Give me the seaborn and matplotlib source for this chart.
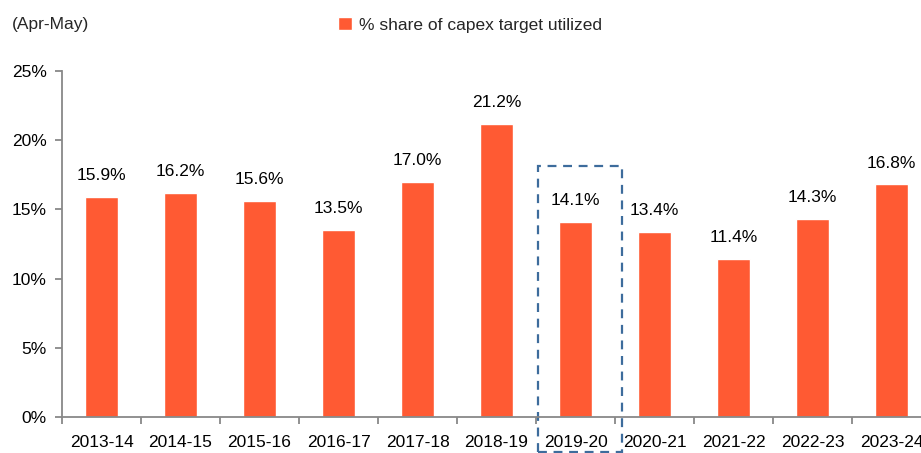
import matplotlib
matplotlib.use("Agg")
import matplotlib.pyplot as plt
import seaborn as sns
import pandas as pd
from matplotlib.patches import Rectangle
from matplotlib.ticker import MultipleLocator, FuncFormatter

years = ["2013-14", "2014-15", "2015-16", "2016-17", "2017-18", "2018-19",
         "2019-20", "2020-21", "2021-22", "2022-23", "2023-24"]
share = [15.9, 16.2, 15.6, 13.5, 17.0, 21.2, 14.1, 13.4, 11.4, 14.3, 16.8]
series_name = "% share of capex target utilized"
highlight = "2019-20"

sns.set_theme(style="white")
plt.rcParams['font.family'] = ['Liberation Sans', 'DejaVu Sans']

df = pd.DataFrame({"year": years, "share": share})

FS = 12.5
W, H = 921, 453
fig = plt.figure(figsize=(W / 100, H / 100), dpi=100)
left, right, bottom, top = 62, 931, 417, 71
ax = fig.add_axes([left / W, (H - bottom) / H, (right - left) / W, (bottom - top) / H])

color = "#FF5A33"
sns.barplot(data=df, x="year", y="share", color=color, width=0.41, ax=ax,
            saturation=1, label=series_name)

ax.set_xlim(-0.5, len(years) - 0.5)
ax.set_ylim(0, 25)
ax.yaxis.set_major_locator(MultipleLocator(5))
ax.yaxis.set_major_formatter(FuncFormatter(lambda v, p: f"{v:.0f}%"))
ax.set_xlabel("")
ax.set_ylabel("")

for s in ["top", "right"]:
    ax.spines[s].set_visible(False)
for s in ["left", "bottom"]:
    ax.spines[s].set_color("#888888")
    ax.spines[s].set_linewidth(1.3)

ax.tick_params(axis="y", which="major", left=True, length=5, width=1.3, color="#888888",
               labelsize=FS, labelcolor="black", pad=6)
ax.tick_params(axis="x", which="major", bottom=False, length=0, labelsize=FS,
               labelcolor="black", pad=13)
ax.set_xticks([i - 0.5 for i in range(len(years) + 1)], minor=True)
ax.tick_params(axis="x", which="minor", bottom=True, length=5, width=1.3, color="#888888")

for i, v in enumerate(share):
    ax.text(i, v + 1.0, f"{v:.1f}%", ha="center", va="bottom", fontsize=FS, color="black")

hi = years.index(highlight)
rect = Rectangle((hi - 0.47, -2.55), 1.06, 20.7, fill=False, linestyle=(0, (4, 3)),
                 edgecolor="#3D6C9C", linewidth=1.6, clip_on=False)
ax.add_patch(rect)

ax.legend(loc="center left", bbox_to_anchor=(338 / W, 1 - 25 / H), bbox_transform=fig.transFigure,
          frameon=False, fontsize=FS, handlelength=0.8, handleheight=0.8,
          handletextpad=0.4, borderaxespad=0.0, borderpad=0.0)
fig.text(12 / W, 1 - 25 / H, "(Apr-May)", ha="left", va="center", fontsize=FS)

fig.savefig("out.png", dpi=100)
